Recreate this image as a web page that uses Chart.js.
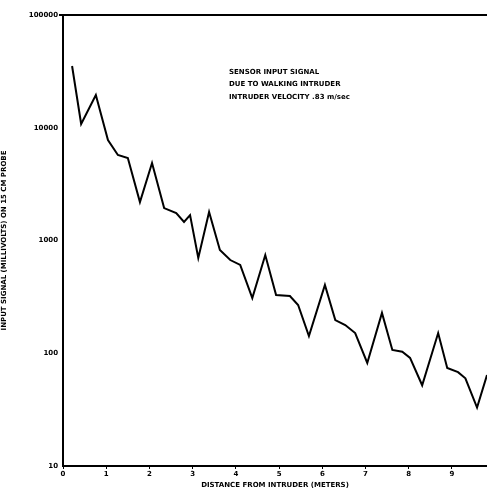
<!DOCTYPE html>
<html>
<head>
<meta charset="utf-8">
<script src="https://cdn.jsdelivr.net/npm/chart.js@4.4.0/dist/chart.umd.min.js"></script>
<style>
  html, body { margin: 0; padding: 0; background: #fff; }
  #wrap { width: 487px; height: 489px; }
</style>
</head>
<body>
<div id="wrap"><canvas id="myChart"></canvas></div>
<script>
// distance from intruder (meters)
const distances = [0.21, 0.42, 0.76, 1.04, 1.27, 1.50, 1.78, 2.06, 2.34, 2.62, 2.80, 2.94,
    3.13, 3.38, 3.63, 3.87, 4.10, 4.38, 4.68, 4.93, 5.25, 5.44, 5.69, 6.06, 6.30, 6.53,
    6.76, 7.04, 7.38, 7.62, 7.85, 8.03, 8.31, 8.68, 8.89, 9.14, 9.31, 9.58, 9.81];
// input signal (millivolts)
const signals = [35300, 10800, 19500, 7790, 5730, 5390, 2190, 4870, 1940, 1750, 1460, 1680,
    700, 1790, 824, 671, 607, 309, 743, 329, 322, 268, 142, 403, 197, 178,
    151, 82, 228, 107, 103, 91, 52, 151, 74, 68, 60, 33, 64];
const xTicks = [0, 1, 2, 3, 4, 5, 6, 7, 8, 9];
const yTicks = [10, 100, 1000, 10000, 100000];
const noteLines = ['SENSOR INPUT SIGNAL', 'DUE TO WALKING INTRUDER', 'INTRUDER VELOCITY .83 m/sec'];

const points = distances.map((d, i) => ({ x: d, y: signals[i] }));

const notePlugin = {
    id: 'note',
    afterDraw(chart) {
        const c = chart.ctx;
        c.save();
        c.fillStyle = '#000';
        c.font = 'bold 7px "DejaVu Sans"';
        c.textBaseline = 'middle';
        noteLines.forEach((t, i) => c.fillText(t, 229, 72 + i * 12.5));
        c.restore();
    }
};

const ctx = document.getElementById('myChart').getContext('2d');
const myChart = new Chart(ctx, {
    type: 'line',
    data: {
        datasets: [{
            data: points,
            borderColor: '#000',
            borderWidth: 2,
            pointRadius: 0,
            tension: 0,
            fill: false
        }]
    },
    options: {
        responsive: true,
        maintainAspectRatio: false,
        animation: false,
        layout: { padding: { top: 15, right: 0, bottom: 0, left: 0 } },
        plugins: { legend: { display: false }, tooltip: { enabled: false } },
        scales: {
            x: {
                type: 'linear',
                min: 0,
                max: 9.81,
                afterBuildTicks: (axis) => { axis.ticks = xTicks.map(v => ({ value: v })); },
                afterFit: (axis) => { axis.height = 23; },
                border: { color: '#000', width: 2 },
                grid: { drawOnChartArea: false, color: '#000', tickLength: 3 },
                ticks: { color: '#000', font: { family: 'DejaVu Sans', size: 7, weight: 'bold' }, padding: 1, maxRotation: 0 },
                title: {
                    display: true,
                    text: 'DISTANCE FROM INTRUDER (METERS)',
                    color: '#000',
                    font: { family: 'DejaVu Sans', size: 7, weight: 'bold' },
                    padding: 0
                }
            },
            y: {
                type: 'logarithmic',
                min: 10,
                max: 100000,
                afterBuildTicks: (axis) => { axis.ticks = yTicks.map(v => ({ value: v })); },
                afterFit: (axis) => { axis.width = 63; },
                border: { color: '#000', width: 2 },
                grid: {
                    color: (c) => (c.tick && c.tick.value === 100000 ? '#000' : 'rgba(0,0,0,0)'),
                    lineWidth: 2,
                    tickLength: 4
                },
                ticks: {
                    color: '#000',
                    font: { family: 'DejaVu Sans', size: 7, weight: 'bold' },
                    padding: 1,
                    callback: (v) => String(v)
                },
                title: {
                    display: true,
                    text: 'INPUT SIGNAL (MILLIVOLTS) ON 15 CM PROBE',
                    color: '#000',
                    font: { family: 'DejaVu Sans', size: 7, weight: 'bold' },
                    padding: 0
                }
            }
        }
    },
    plugins: [notePlugin]
});
</script>
</body>
</html>
